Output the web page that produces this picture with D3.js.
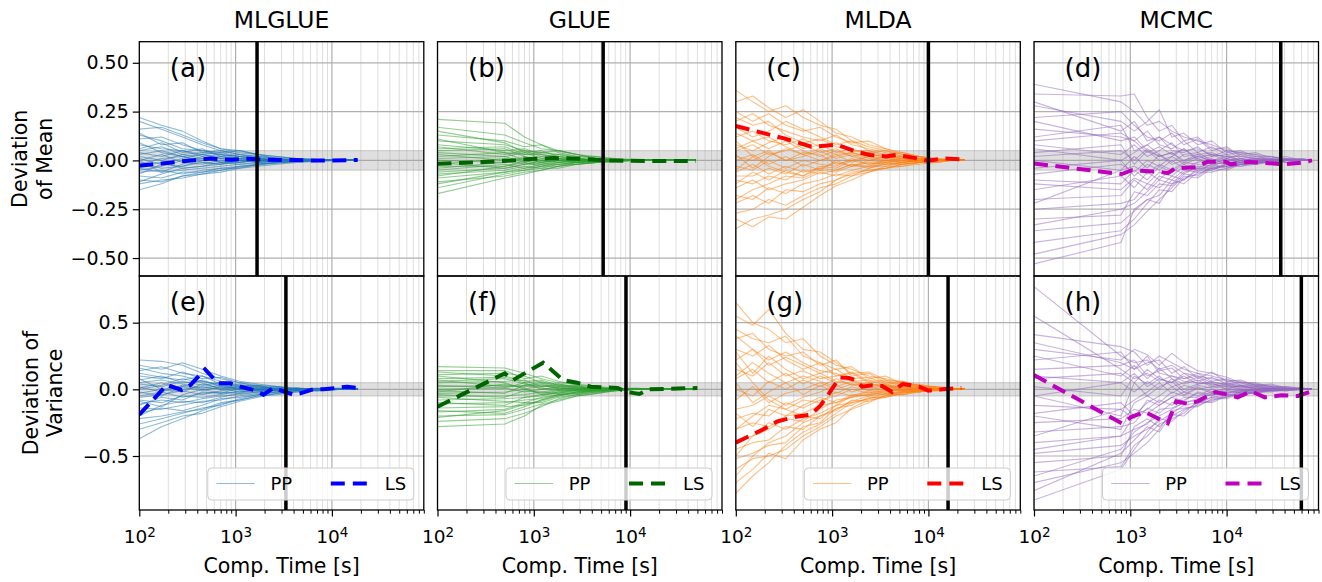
<!DOCTYPE html>
<html><head><meta charset="utf-8">
<script src="https://cdn.jsdelivr.net/npm/d3@7"></script>
<style>body{margin:0;background:#fff}</style>
</head><body>
<script>
// ---------------- DATA ----------------
const methods = ["MLGLUE", "GLUE", "MLDA", "MCMC"];
const letters = [["(a)", "(b)", "(c)", "(d)"], ["(e)", "(f)", "(g)", "(h)"]];
const rowLabels = [["Deviation", "of Mean"], ["Deviation of", "Variance"]];
const legendLabels = ["PP", "LS"];
const xLabel = "Comp. Time [s]";
const xDomain = [100, 90000];
const xMajor = [100, 1000, 10000];
const yTicksMean = [-0.5, -0.25, 0, 0.25, 0.5];
const yTicksVar = [-0.5, 0, 0.5];
const bandHalf = 0.05;

// computational-time grids of the per-run (PP) curves
const timesMLGLUE = [100, 170, 280, 450, 700, 1100, 1700, 2700, 4300, 7000, 11500, 18500];
const timesGLUE = [100, 500, 800, 1200, 1800, 2800, 4500, 7000, 11000, 18000, 30000, 48000];
const timesMLDA = [100, 150, 220, 330, 500, 750, 1100, 1600, 2400, 3600, 5400, 8000, 12000, 17000, 24000];
const timesMCMC = [100, 800, 1100, 1500, 2000, 2700, 3600, 5000, 7000, 10000, 14000, 20000, 29000, 42000, 60000, 77000];

// PP curves: deviation of mean
const meanMLGLUE = [
 [0.22,0.18,0.15,0.10,0.06,0.05,0.03,0.02,0.01,0.005,0.002,0],
 [0.20,0.16,0.12,0.08,0.05,0.03,0.02,0.015,0.01,0.005,0.002,0],
 [0.16,0.17,0.13,0.09,0.06,0.04,0.03,0.02,0.01,0.005,0,0],
 [0.13,0.10,0.06,0.05,0.04,0.05,0.03,0.01,0.005,0.0,0.0,0],
 [0.11,0.12,0.08,0.05,0.03,0.02,0.01,0.0,0.005,0.003,0.001,0],
 [0.08,0.06,0.05,0.03,0.04,0.02,0.02,0.01,0.0,0.0,0.0,0],
 [0.06,0.09,0.04,0.06,0.02,0.03,0.01,0.005,0.0,0,0,0],
 [0.04,0.02,0.05,0.02,0.03,0.01,0.015,0.0,0.005,0,0,0],
 [0.03,0.05,0.02,0.0,0.02,0.0,-0.01,0.0,0.0,0,0,0],
 [0.01,-0.02,0.01,0.03,0.01,0.02,0.0,-0.005,0,0,0,0],
 [0.0,0.03,-0.01,-0.02,0.0,-0.01,0.005,0.0,0,0,0,0],
 [-0.01,-0.04,-0.03,-0.01,-0.02,0.0,-0.01,0.0,-0.005,0,0,0],
 [-0.03,-0.01,-0.04,-0.03,-0.01,-0.02,-0.01,-0.005,0,0,0,0],
 [-0.04,-0.06,-0.05,-0.04,-0.03,-0.02,-0.015,-0.01,-0.005,0,0,0],
 [-0.06,-0.05,-0.07,-0.05,-0.04,-0.03,-0.02,-0.01,-0.005,-0.002,0,0],
 [-0.08,-0.09,-0.06,-0.06,-0.05,-0.035,-0.02,-0.01,-0.005,0,0,0],
 [-0.10,-0.11,-0.08,-0.06,-0.04,-0.04,-0.02,-0.015,-0.005,-0.002,0,0],
 [-0.12,-0.10,-0.09,-0.07,-0.05,-0.03,-0.025,-0.01,-0.005,0,0,0],
 [-0.15,-0.12,-0.08,-0.07,-0.06,-0.04,-0.03,-0.02,-0.01,-0.005,0,0],
 [0.02,0.0,0.03,0.04,0.05,0.03,0.02,0.01,0.005,0,0,0],
 [0.05,0.07,0.03,0.01,0.02,0.01,0.0,0.005,0,0,0,0],
 [-0.02,0.01,0.02,-0.01,-0.02,0.005,0.01,0.0,0,0,0,0],
 [0.09,0.04,0.02,0.03,0.01,0.0,0.01,0.0,0,0,0,0],
 [-0.05,-0.03,0.0,0.01,-0.01,-0.01,0.0,0.0,0,0,0,0],
 [0.14,0.08,0.09,0.04,0.03,0.02,0.0,0.005,0,0,0,0],
 [-0.07,-0.02,-0.03,0.0,0.01,0.0,-0.005,0,0,0,0,0],
 [0.0,-0.06,-0.02,0.02,-0.01,0.01,0.0,0,0,0,0,0],
 [-0.11,-0.07,-0.04,-0.03,-0.02,-0.01,0.0,0.0,0,0,0,0]
];
const meanGLUE = [
 [0.21,0.19,0.12,0.08,0.05,0.03,0.02,0.01,0.005,0,0,0],
 [0.17,0.13,0.09,0.06,0.05,0.03,0.01,0.01,0,0,0,0],
 [0.13,0.10,0.07,0.08,0.04,0.02,0.02,0.0,0,0,0,0],
 [0.10,0.08,0.05,0.04,0.05,0.03,0.01,0.005,0,0,0,0],
 [0.08,0.05,0.06,0.03,0.02,0.01,0.0,0.005,0,0,0,0],
 [0.06,0.07,0.03,0.04,0.03,0.02,0.01,0,0,0,0,0],
 [0.04,0.02,0.04,0.01,0.02,0.0,0.005,0,0,0,0,0],
 [0.02,0.04,0.0,0.02,0.0,0.01,0.0,0,0,0,0,0],
 [0.0,-0.01,0.02,0.0,0.01,-0.01,0.0,0,0,0,0,0],
 [-0.02,0.01,-0.02,-0.01,0.0,0.0,-0.005,0,0,0,0,0],
 [-0.03,-0.03,-0.01,-0.03,-0.01,-0.01,0.0,0,0,0,0,0],
 [-0.05,-0.02,-0.04,-0.02,-0.02,-0.01,-0.005,0,0,0,0,0],
 [-0.07,-0.05,-0.03,-0.04,-0.02,-0.02,-0.01,-0.005,0,0,0,0],
 [-0.09,-0.06,-0.05,-0.03,-0.03,-0.01,-0.01,0,0,0,0,0],
 [-0.11,-0.08,-0.06,-0.05,-0.03,-0.02,-0.01,-0.005,0,0,0,0],
 [-0.14,-0.07,-0.05,-0.04,-0.04,-0.02,-0.01,0,0,0,0,0],
 [-0.17,-0.09,-0.07,-0.05,-0.03,-0.02,-0.01,-0.005,0,0,0,0],
 [0.03,0.0,0.01,-0.01,0.01,0.0,0,0,0,0,0,0],
 [-0.01,-0.04,-0.02,0.0,-0.01,0.0,0.005,0,0,0,0,0],
 [0.07,0.03,0.05,0.02,0.03,0.01,0.0,0,0,0,0,0],
 [0.01,0.02,-0.01,0.01,0.0,0.005,0,0,0,0,0,0],
 [-0.04,-0.01,0.01,-0.01,0.0,-0.005,0,0,0,0,0,0],
 [0.05,0.06,0.02,0.0,0.01,0.0,0,0,0,0,0,0],
 [-0.06,-0.04,-0.02,-0.02,-0.01,0.0,0,0,0,0,0,0],
 [0.11,0.04,0.03,0.03,0.01,0.01,0.0,0,0,0,0,0],
 [-0.08,-0.03,0.0,-0.02,0.0,-0.01,0,0,0,0,0,0],
 [0.15,0.09,0.04,0.05,0.02,0.01,0.005,0,0,0,0,0],
 [-0.12,-0.06,-0.04,-0.03,-0.02,-0.01,-0.005,0,0,0,0,0]
];
const meanMLDA = [
 [0.36,0.30,0.25,0.28,0.22,0.18,0.16,0.10,0.07,0.05,0.03,0.02,0.01,0.0,0],
 [0.30,0.33,0.27,0.22,0.26,0.20,0.14,0.12,0.08,0.06,0.04,0.02,0.01,0.005,0],
 [0.25,0.20,0.24,0.18,0.15,0.17,0.12,0.09,0.10,0.06,0.03,0.02,0.0,0,0],
 [0.20,0.24,0.18,0.15,0.12,0.10,0.13,0.08,0.06,0.04,0.02,0.01,0.01,0,0],
 [0.17,0.12,0.15,0.20,0.16,0.12,0.08,0.10,0.05,0.03,0.04,0.02,0.0,0,0],
 [0.12,0.15,0.10,0.08,0.11,0.07,0.09,0.05,0.04,0.05,0.02,0.01,0.005,0,0],
 [0.08,0.05,0.09,0.12,0.06,0.08,0.04,0.06,0.03,0.02,0.01,0.02,0.0,0,0],
 [0.05,0.08,0.03,0.05,0.08,0.04,0.06,0.02,0.04,0.01,0.02,0.0,0.0,0,0],
 [0.02,0.0,0.04,0.0,0.02,0.05,0.01,0.03,0.0,0.02,0.0,0.01,0,0,0],
 [0.0,0.03,-0.02,0.02,-0.03,0.0,0.03,-0.01,0.02,0.0,0.01,-0.01,0,0,0],
 [-0.03,-0.05,0.0,-0.04,0.0,-0.02,-0.03,0.01,-0.02,-0.01,0.0,0.0,0,0,0],
 [-0.06,-0.02,-0.07,-0.03,-0.06,-0.04,-0.01,-0.03,-0.01,-0.02,-0.01,0.0,0,0,0],
 [-0.10,-0.12,-0.08,-0.10,-0.05,-0.07,-0.05,-0.02,-0.04,-0.01,-0.02,-0.01,0,0,0],
 [-0.14,-0.10,-0.15,-0.12,-0.10,-0.06,-0.08,-0.05,-0.03,-0.03,-0.01,0.0,-0.01,0,0],
 [-0.18,-0.20,-0.14,-0.17,-0.12,-0.10,-0.07,-0.08,-0.04,-0.02,-0.02,-0.01,0,0,0],
 [-0.22,-0.18,-0.22,-0.15,-0.16,-0.12,-0.10,-0.06,-0.05,-0.04,-0.02,-0.01,0,0,0],
 [-0.27,-0.25,-0.20,-0.23,-0.18,-0.14,-0.12,-0.08,-0.06,-0.03,-0.03,-0.01,-0.01,0,0],
 [-0.35,-0.30,-0.28,-0.25,-0.20,-0.16,-0.10,-0.07,-0.05,-0.04,-0.02,-0.01,0,0,0],
 [-0.30,-0.34,-0.29,-0.30,-0.24,-0.18,-0.13,-0.10,-0.06,-0.04,-0.03,-0.02,-0.01,0,0],
 [0.10,0.02,-0.03,-0.06,-0.08,-0.04,-0.05,-0.02,-0.03,0.0,-0.01,0.0,0,0,0],
 [0.03,-0.04,0.02,0.06,0.03,0.0,0.02,0.04,0.01,0.0,0.01,0.0,0,0,0],
 [-0.05,0.02,0.05,0.0,0.04,0.03,-0.02,0.0,0.02,0.01,0.0,0.005,0,0,0],
 [0.14,0.10,0.06,0.10,0.05,0.02,0.05,0.02,0.0,0.02,0.01,0.0,0,0,0],
 [-0.12,-0.06,-0.10,-0.05,-0.08,-0.03,-0.04,0.0,-0.02,0.0,-0.01,0.0,0,0,0],
 [0.06,0.10,0.12,0.07,0.03,0.06,0.03,0.04,0.02,0.03,0.01,0.01,0,0,0],
 [-0.20,-0.15,-0.12,-0.08,-0.09,-0.05,-0.06,-0.03,-0.03,-0.02,-0.01,0.0,0,0,0],
 [0.22,0.18,0.20,0.13,0.09,0.11,0.07,0.05,0.05,0.02,0.02,0.01,0,0,0],
 [-0.08,-0.08,-0.04,-0.07,-0.02,-0.05,0.0,-0.03,0.0,-0.01,0.0,-0.005,0,0,0]
];
const meanMCMC = [
 [0.39,0.30,0.25,0.18,0.20,0.15,0.12,0.10,0.08,0.05,0.04,0.03,0.02,0.01,0.01,0],
 [0.34,0.33,0.34,0.22,0.15,0.18,0.10,0.12,0.06,0.06,0.03,0.04,0.01,0.02,0,0],
 [0.28,0.20,0.15,0.20,0.26,0.12,0.14,0.08,0.10,0.04,0.05,0.02,0.02,0,0.01,0],
 [0.22,0.25,0.18,0.12,0.10,0.14,0.08,0.11,0.05,0.07,0.02,0.03,0.0,0.01,0,0],
 [0.16,0.12,0.10,0.15,0.08,0.06,0.10,0.04,0.07,0.03,0.04,0.01,0.02,0,0,0],
 [0.12,0.18,0.05,0.08,0.12,0.05,0.04,0.07,0.02,0.05,0.01,0.02,0.0,0.01,0,0],
 [0.08,0.03,0.08,0.02,0.05,0.09,0.02,0.03,0.04,0.01,0.03,0.0,0.01,0,0,0],
 [0.04,0.08,-0.02,0.05,0.0,0.02,0.06,0.0,0.02,0.03,0.0,0.01,0,0.005,0,0],
 [0.0,-0.05,0.02,-0.04,0.03,-0.02,0.0,0.03,-0.01,0.0,0.01,-0.01,0.0,0,0,0],
 [-0.04,0.0,-0.08,-0.02,-0.05,0.0,-0.04,-0.01,0.01,-0.02,0.0,0.0,-0.01,0,0,0],
 [-0.10,-0.12,-0.05,-0.10,-0.03,-0.06,-0.02,-0.05,-0.02,-0.01,-0.02,0.0,0.0,0,0,0],
 [-0.15,-0.08,-0.14,-0.06,-0.10,-0.04,-0.07,-0.03,-0.04,-0.03,-0.01,-0.01,0.0,-0.01,0,0],
 [-0.20,-0.18,-0.10,-0.15,-0.08,-0.10,-0.05,-0.06,-0.02,-0.04,-0.02,-0.01,-0.01,0,0,0],
 [-0.25,-0.22,-0.20,-0.12,-0.14,-0.08,-0.10,-0.04,-0.05,-0.02,-0.03,-0.02,0,-0.01,0,0],
 [-0.30,-0.28,-0.16,-0.18,-0.12,-0.13,-0.07,-0.08,-0.03,-0.03,-0.02,-0.01,-0.01,0,0,0],
 [-0.36,-0.32,-0.26,-0.20,-0.18,-0.10,-0.12,-0.06,-0.06,-0.04,-0.02,-0.02,0,0,0,0],
 [-0.42,-0.36,-0.30,-0.22,-0.15,-0.16,-0.09,-0.07,-0.04,-0.03,-0.03,-0.01,-0.01,0,0,0],
 [-0.53,-0.42,-0.25,-0.20,-0.22,-0.12,-0.10,-0.05,-0.05,-0.02,-0.01,-0.01,0,0,0,0],
 [-0.48,-0.38,-0.33,-0.26,-0.20,-0.14,-0.08,-0.09,-0.04,-0.05,-0.02,-0.02,-0.01,0,0,0],
 [0.20,0.10,0.12,0.05,0.02,0.04,0.0,0.02,0.0,0.01,-0.01,0.0,0,0,0,0],
 [0.02,0.05,0.0,0.06,0.02,0.04,-0.01,0.02,0.03,0.0,0.01,0.0,0.0,0,0,0],
 [-0.07,-0.02,-0.06,0.0,-0.03,0.02,-0.02,0.01,-0.02,0.01,-0.01,0.0,0,0,0,0],
 [0.10,0.14,0.10,0.04,0.07,0.03,0.06,0.01,0.03,0.02,0.0,0.01,0,0,0,0],
 [-0.12,-0.15,-0.09,-0.12,-0.06,-0.08,-0.03,-0.04,-0.01,-0.02,-0.01,0.0,0,0,0,0],
 [0.30,0.15,0.20,0.10,0.12,0.08,0.05,0.06,0.03,0.02,0.02,0.01,0.01,0,0,0],
 [-0.33,-0.25,-0.22,-0.16,-0.10,-0.12,-0.06,-0.04,-0.04,-0.02,-0.02,-0.01,0,0,0,0],
 [0.06,0.0,0.04,0.08,0.03,-0.01,0.03,0.04,0.0,0.02,0.0,0.0,0,0,0,0],
 [-0.22,-0.05,-0.03,-0.07,-0.02,-0.05,-0.01,-0.02,-0.03,0.0,-0.01,0.0,0,0,0,0]
];

// PP curves: deviation of variance
const varMLGLUE = [
 [0.22,0.21,0.18,0.12,0.08,0.05,0.03,0.02,0.01,0.0,0.01,0.0],
 [0.18,0.15,0.20,0.15,0.10,0.06,0.04,0.02,0.0,0.01,0.0,0],
 [0.14,0.17,0.12,0.10,0.06,0.03,0.02,0.0,0.01,-0.01,0,0],
 [0.10,0.08,0.13,0.08,0.09,0.05,0.02,0.01,0.0,0.0,0.0,0],
 [0.07,0.10,0.05,0.06,0.03,0.04,0.01,0.02,0.0,0.0,0,0],
 [0.04,0.02,0.06,0.03,0.05,0.02,0.0,0.01,-0.01,0,0,0],
 [0.01,0.05,0.0,0.02,0.0,0.01,0.02,0.0,0.0,0,0,0],
 [-0.02,-0.05,0.02,-0.01,0.02,0.0,-0.01,0.0,0.01,0,0,0],
 [-0.05,-0.02,-0.06,-0.03,-0.02,-0.03,0.0,-0.01,0.0,0,0,0],
 [-0.08,-0.10,-0.05,-0.06,-0.04,-0.01,-0.02,0.0,0.0,0,0,0],
 [-0.11,-0.08,-0.10,-0.07,-0.05,-0.04,-0.02,-0.01,0.0,-0.01,0,0],
 [-0.14,-0.15,-0.12,-0.09,-0.08,-0.05,-0.03,-0.02,-0.01,0,0,0],
 [-0.18,-0.14,-0.16,-0.12,-0.07,-0.06,-0.04,-0.02,-0.01,0,0,0],
 [-0.22,-0.20,-0.17,-0.15,-0.10,-0.08,-0.05,-0.03,-0.01,-0.01,0,0],
 [-0.26,-0.22,-0.18,-0.14,-0.12,-0.07,-0.04,-0.02,-0.02,0,0,0],
 [-0.30,-0.25,-0.20,-0.18,-0.13,-0.09,-0.06,-0.03,-0.01,-0.01,0,0],
 [-0.37,-0.28,-0.22,-0.16,-0.11,-0.08,-0.05,-0.04,-0.02,0,0,0],
 [0.0,0.03,0.08,0.05,0.0,0.02,0.03,0.0,0.0,0,0,0],
 [-0.03,0.0,-0.02,0.04,0.01,-0.02,0.0,-0.01,0,0,0,0],
 [0.12,0.09,0.07,0.10,0.04,0.0,0.01,0.0,0,0,0,0],
 [0.02,-0.02,0.03,0.0,0.01,0.03,0.0,0.01,0,0,0,0],
 [-0.06,-0.04,-0.01,-0.04,-0.01,0.0,-0.01,0.0,0,0,0,0],
 [0.16,0.12,0.10,0.06,0.04,0.02,0.03,0.0,0,0,0,0],
 [-0.12,-0.06,-0.08,-0.02,-0.03,-0.02,0.0,0.0,0,0,0,0],
 [0.05,0.07,0.04,0.01,0.03,0.0,0.01,0.0,0,0,0,0],
 [-0.20,-0.12,-0.09,-0.10,-0.06,-0.03,-0.02,-0.01,0,0,0,0],
 [-0.09,-0.13,-0.04,0.0,-0.03,0.01,0.0,0.0,0,0,0,0],
 [0.08,0.0,0.02,0.07,0.02,0.01,-0.01,0.0,0,0,0,0]
];
const varGLUE = [
 [0.17,0.16,0.12,0.08,0.05,0.04,0.02,0.01,0,0,0,0],
 [0.14,0.14,0.08,0.10,0.06,0.03,0.02,0.0,0.01,0,0,0],
 [0.11,0.12,0.10,0.05,0.04,0.02,0.01,0.01,0,0,0,0],
 [0.08,0.09,0.05,0.06,0.02,0.03,0.0,0.0,0,0,0,0],
 [0.05,0.06,0.07,0.02,0.03,0.01,0.01,0,0,0,0,0],
 [0.02,0.03,0.02,0.04,0.0,0.02,0.0,0.005,0,0,0,0],
 [0.0,0.01,-0.02,0.0,0.01,0.0,-0.01,0,0,0,0,0],
 [-0.03,-0.02,0.0,-0.03,-0.01,-0.01,0.0,0,0,0,0,0],
 [-0.05,-0.05,-0.04,-0.02,-0.03,0.0,-0.01,0,0,0,0,0],
 [-0.08,-0.07,-0.06,-0.05,-0.02,-0.02,0.0,-0.005,0,0,0,0],
 [-0.11,-0.10,-0.08,-0.07,-0.04,-0.03,-0.01,0,0,0,0,0],
 [-0.14,-0.13,-0.12,-0.08,-0.05,-0.02,-0.02,-0.01,0,0,0,0],
 [-0.17,-0.15,-0.10,-0.10,-0.06,-0.04,-0.02,0,0,0,0,0],
 [-0.20,-0.19,-0.15,-0.11,-0.08,-0.05,-0.03,-0.01,0,0,0,0],
 [-0.24,-0.22,-0.18,-0.13,-0.07,-0.04,-0.02,-0.01,0,0,0,0],
 [-0.28,-0.26,-0.20,-0.12,-0.09,-0.05,-0.03,-0.01,0,0,0,0],
 [0.06,0.08,0.04,0.02,0.04,0.01,0.0,0,0,0,0,0],
 [-0.01,-0.03,0.03,0.01,-0.01,0.01,0.005,0,0,0,0,0],
 [0.10,0.05,0.0,0.03,0.01,0.0,0.01,0,0,0,0,0],
 [-0.06,-0.09,-0.10,-0.06,-0.04,-0.02,-0.01,0,0,0,0,0],
 [0.03,0.01,0.05,0.0,0.02,0.0,0.005,0,0,0,0,0],
 [-0.04,-0.06,-0.01,-0.02,0.0,-0.01,0,0,0,0,0,0],
 [0.13,0.10,0.06,0.07,0.03,0.02,0.0,0,0,0,0,0],
 [-0.10,-0.12,-0.06,-0.04,-0.03,-0.01,-0.005,0,0,0,0,0],
 [0.07,0.02,0.03,0.05,0.01,0.01,0,0,0,0,0,0],
 [-0.16,-0.18,-0.13,-0.08,-0.04,-0.03,-0.01,0,0,0,0,0],
 [-0.02,0.04,0.01,-0.04,-0.02,0.0,0,0,0,0,0,0],
 [-0.21,-0.16,-0.11,-0.09,-0.05,-0.02,-0.01,0,0,0,0,0]
];
const varMLDA = [
 [0.65,0.50,0.45,0.35,0.38,0.25,0.18,0.15,0.10,0.08,0.05,0.03,0.02,0.01,0],
 [0.55,0.48,0.60,0.42,0.30,0.28,0.20,0.12,0.13,0.07,0.06,0.03,0.01,0.0,0],
 [0.45,0.38,0.35,0.40,0.25,0.20,0.15,0.17,0.08,0.10,0.04,0.02,0.02,0,0],
 [0.38,0.42,0.30,0.25,0.28,0.18,0.22,0.10,0.12,0.05,0.06,0.02,0.0,0,0],
 [0.30,0.25,0.33,0.22,0.15,0.20,0.10,0.13,0.06,0.07,0.03,0.04,0.01,0,0],
 [0.22,0.30,0.18,0.24,0.18,0.12,0.15,0.08,0.09,0.04,0.05,0.01,0.02,0,0],
 [0.15,0.10,0.20,0.10,0.14,0.08,0.10,0.12,0.05,0.06,0.02,0.03,0.0,0,0],
 [0.08,0.15,0.05,0.12,0.04,0.10,0.05,0.07,0.03,0.04,0.01,0.02,0,0,0],
 [0.0,-0.05,0.06,0.0,0.07,0.02,0.08,0.03,0.05,0.01,0.03,0.0,0.01,0,0],
 [-0.08,0.02,-0.10,-0.03,0.0,0.05,0.0,0.04,0.0,0.03,0.0,0.01,0,0,0],
 [-0.15,-0.12,-0.05,-0.12,-0.06,-0.02,0.03,-0.02,0.02,-0.01,0.02,0.0,0,0,0],
 [-0.22,-0.18,-0.20,-0.10,-0.14,-0.08,-0.05,0.0,-0.03,0.01,-0.01,0.0,0,0,0],
 [-0.30,-0.25,-0.28,-0.20,-0.18,-0.12,-0.10,-0.06,-0.02,-0.04,-0.01,-0.02,0,0,0],
 [-0.38,-0.35,-0.25,-0.30,-0.22,-0.18,-0.12,-0.10,-0.07,-0.03,-0.04,-0.01,-0.01,0,0],
 [-0.45,-0.40,-0.38,-0.28,-0.30,-0.20,-0.16,-0.08,-0.09,-0.05,-0.02,-0.02,0,0,0],
 [-0.52,-0.48,-0.42,-0.40,-0.28,-0.25,-0.14,-0.12,-0.06,-0.06,-0.03,-0.01,-0.01,0,0],
 [-0.60,-0.52,-0.50,-0.45,-0.35,-0.28,-0.20,-0.15,-0.10,-0.04,-0.04,-0.02,0,0,0],
 [-0.70,-0.60,-0.48,-0.52,-0.38,-0.30,-0.25,-0.14,-0.08,-0.06,-0.03,-0.01,-0.01,0,0],
 [-0.78,-0.65,-0.55,-0.42,-0.32,-0.26,-0.18,-0.10,-0.07,-0.05,-0.02,-0.02,0,0,0],
 [0.20,0.05,-0.08,-0.15,-0.20,-0.22,-0.12,-0.05,-0.04,0.0,-0.01,0.0,0,0,0],
 [0.10,0.20,0.12,0.05,0.10,0.06,0.02,0.06,0.02,0.03,0.01,0.0,0,0,0],
 [-0.30,-0.20,-0.12,-0.15,-0.08,-0.10,-0.02,-0.05,-0.01,-0.02,0.0,-0.01,0,0,0],
 [0.40,0.30,0.22,0.28,0.20,0.14,0.12,0.06,0.07,0.03,0.02,0.01,0,0,0],
 [-0.50,-0.35,-0.30,-0.22,-0.24,-0.15,-0.08,-0.06,-0.04,-0.02,-0.02,0.0,0,0,0],
 [0.05,-0.10,-0.02,0.05,-0.04,0.03,-0.03,0.02,-0.01,0.02,0.0,0.0,0,0,0],
 [-0.65,-0.50,-0.40,-0.35,-0.25,-0.20,-0.15,-0.09,-0.05,-0.03,-0.02,-0.01,0,0,0],
 [0.28,0.12,0.25,0.15,0.08,0.12,0.06,0.04,0.04,0.02,0.01,0.01,0,0,0],
 [-0.18,-0.28,-0.15,-0.20,-0.12,-0.06,-0.10,-0.04,-0.05,-0.01,-0.01,0.0,0,0,0]
];
const varMCMC = [
 [0.77,0.25,0.20,0.22,0.15,0.18,0.12,0.10,0.08,0.06,0.05,0.04,0.02,0.01,0.01,0],
 [0.41,0.32,0.28,0.18,0.25,0.20,0.15,0.12,0.10,0.07,0.06,0.03,0.03,0.01,0,0],
 [0.30,0.22,0.30,0.26,0.18,0.27,0.20,0.14,0.12,0.09,0.05,0.05,0.02,0.02,0.01,0],
 [0.22,0.28,0.15,0.20,0.22,0.12,0.17,0.08,0.13,0.06,0.07,0.03,0.04,0.01,0,0],
 [0.15,0.18,0.22,0.10,0.14,0.16,0.08,0.12,0.06,0.08,0.03,0.04,0.01,0.02,0,0],
 [0.08,0.12,0.05,0.15,0.08,0.05,0.12,0.06,0.09,0.04,0.05,0.02,0.02,0,0.01,0],
 [0.02,-0.05,0.10,0.04,0.10,0.02,0.05,0.09,0.03,0.05,0.02,0.03,0.0,0.01,0,0],
 [-0.05,0.05,-0.02,0.06,0.0,0.08,0.0,0.04,0.05,0.0,0.03,0.0,0.01,0,0,0],
 [-0.12,-0.15,-0.08,-0.02,0.05,-0.03,0.03,0.0,0.02,0.03,0.0,0.01,0.0,0,0,0],
 [-0.18,-0.10,-0.20,-0.10,-0.05,0.02,-0.04,0.02,-0.02,0.01,-0.01,0.0,0.0,0,0,0],
 [-0.25,-0.22,-0.15,-0.18,-0.12,-0.06,-0.02,-0.05,0.0,-0.03,0.0,-0.01,0.0,0,0,0],
 [-0.32,-0.28,-0.25,-0.14,-0.18,-0.10,-0.08,-0.03,-0.05,-0.01,-0.03,0.0,-0.01,0,0,0],
 [-0.40,-0.35,-0.30,-0.26,-0.15,-0.14,-0.10,-0.08,-0.03,-0.05,-0.02,-0.02,0,-0.01,0,0],
 [-0.48,-0.42,-0.35,-0.30,-0.24,-0.18,-0.12,-0.10,-0.06,-0.04,-0.04,-0.01,-0.01,0,0,0],
 [-0.55,-0.50,-0.28,-0.22,-0.28,-0.20,-0.15,-0.12,-0.08,-0.06,-0.03,-0.03,-0.01,-0.01,0,0],
 [-0.62,-0.58,-0.42,-0.35,-0.26,-0.22,-0.18,-0.09,-0.10,-0.05,-0.04,-0.02,-0.02,0,0,0],
 [-0.70,-0.55,-0.48,-0.40,-0.30,-0.16,-0.14,-0.13,-0.07,-0.07,-0.03,-0.02,-0.01,0,0,0],
 [-0.83,-0.60,-0.45,-0.32,-0.22,-0.24,-0.16,-0.10,-0.09,-0.04,-0.05,-0.02,-0.01,-0.01,0,0],
 [-0.76,-0.48,-0.38,-0.28,-0.32,-0.19,-0.20,-0.11,-0.06,-0.06,-0.02,-0.03,0,0,0,0],
 [0.55,0.15,0.08,0.12,0.06,0.10,0.06,0.05,0.04,0.02,0.02,0.01,0.01,0,0,0],
 [0.10,0.05,0.12,0.02,0.08,0.05,0.10,0.04,0.06,0.03,0.02,0.01,0,0,0,0],
 [-0.20,-0.30,-0.10,-0.05,-0.10,-0.02,-0.05,0.01,-0.03,0.0,-0.01,0.0,0,0,0,0],
 [0.35,0.20,0.15,0.25,0.12,0.10,0.08,0.10,0.05,0.04,0.03,0.02,0.01,0,0,0],
 [-0.45,-0.35,-0.20,-0.15,-0.08,-0.12,-0.06,-0.06,-0.02,-0.03,-0.01,-0.01,0,0,0,0],
 [-0.05,-0.20,0.05,-0.05,0.02,0.06,-0.02,0.03,0.01,0.02,0.0,0.0,0,0,0,0],
 [-0.65,-0.45,-0.32,-0.25,-0.20,-0.15,-0.10,-0.07,-0.04,-0.03,-0.02,-0.01,0,0,0,0],
 [0.25,0.10,0.18,0.08,0.16,0.08,0.04,0.07,0.02,0.04,0.01,0.02,0,0,0,0],
 [-0.35,-0.15,-0.22,-0.08,-0.12,-0.06,-0.09,-0.02,-0.04,-0.01,-0.02,0.0,0,0,0,0]
];

// LS curves (time, value)
const lsMeanMLGLUE_t = [100,180,300,550,900,1300,2000,3500,6000,10000,18500];
const lsMeanMLGLUE_v = [-0.027,-0.015,-0.003,0.01,0.003,0.008,0.004,0.002,0.0,0.0,0.002];
const lsMeanGLUE_t = [100,300,600,1000,1600,2500,4000,6000,10000,20000,48000];
const lsMeanGLUE_v = [-0.017,-0.008,0.0,0.008,0.012,0.01,0.005,0.0,-0.002,-0.003,-0.003];
const lsMeanMLDA_t = [100,310,610,1120,1780,2470,3640,4600,7100,9800,14500,23000];
const lsMeanMLDA_v = [0.176,0.114,0.07,0.08,0.045,0.028,0.02,0.028,0.013,-0.002,0.01,0.005];
const lsMeanMCMC_t = [100,815,1040,2000,2450,2950,4800,6300,9800,11000,17000,28000,40000,63000,77000];
const lsMeanMCMC_v = [-0.016,-0.07,-0.05,-0.058,-0.065,-0.04,-0.035,-0.007,-0.007,-0.02,-0.007,-0.015,-0.02,-0.01,0.0];
const lsVarMLGLUE_t = [100,193,275,337,482,660,880,1120,1540,1950,2460,3150,3990,4700,6400,8200,14400,18200];
const lsVarMLGLUE_v = [-0.19,0.033,-0.005,0.03,0.15,0.045,0.045,0.02,-0.005,-0.04,0.01,-0.015,-0.04,-0.03,0.0,0.0,0.02,0.01];
const lsVarGLUE_t = [100,500,610,1250,2000,2800,3900,5400,7400,9300,12500,15500,50000];
const lsVarGLUE_v = [-0.13,0.12,0.07,0.2,0.07,0.05,0.02,0.015,0.01,-0.02,-0.035,0.0,0.01];
const lsVarMLDA_t = [100,193,270,425,600,760,930,1200,1500,1750,2050,2600,3300,4200,5400,6600,8000,10000,14000,22000];
const lsVarMLDA_v = [-0.40,-0.30,-0.24,-0.205,-0.19,-0.12,-0.03,0.09,0.085,0.07,0.02,0.03,0.025,-0.02,0.04,0.03,0.02,-0.01,0.0,0.01];
const lsVarMCMC_t = [100,815,1040,1420,2450,3000,4000,5000,7600,10400,13000,18000,25000,37000,55000,76000];
const lsVarMCMC_v = [0.107,-0.255,-0.205,-0.17,-0.255,-0.09,-0.11,-0.09,-0.02,-0.04,-0.06,-0.015,-0.06,-0.045,-0.05,-0.015];

// vertical markers (comp. time)
const vlineMean = [1670, 5250, 10000, 36500];
const vlineVar = [3330, 9060, 16000, 59700];

const ppColors = ["#1f77b4", "#2ca02c", "#ff7f0e", "#9467bd"];
const lsColors = ["#0000ff", "#006400", "#ff0000", "#bf00bf"];

// ---------------- assemble ----------------
const times = [timesMLGLUE, timesGLUE, timesMLDA, timesMCMC];
const ppData = [[meanMLGLUE, meanGLUE, meanMLDA, meanMCMC], [varMLGLUE, varGLUE, varMLDA, varMCMC]];
const lsT = [[lsMeanMLGLUE_t, lsMeanGLUE_t, lsMeanMLDA_t, lsMeanMCMC_t], [lsVarMLGLUE_t, lsVarGLUE_t, lsVarMLDA_t, lsVarMCMC_t]];
const lsV = [[lsMeanMLGLUE_v, lsMeanGLUE_v, lsMeanMLDA_v, lsMeanMCMC_v], [lsVarMLGLUE_v, lsVarGLUE_v, lsVarMLDA_v, lsVarMCMC_v]];
const vlines = [vlineMean, vlineVar];

// ---------------- layout ----------------
const W = 1322, H = 582;
const FONT = "DejaVu Sans, Verdana, sans-serif";
const colLeft = [139.3, 437.5, 735.8, 1034], pw = 284.5;
const rowTop = [41.7, 276], rowH = [234.3, 234];
const yDom = [[-0.592, 0.608], [-0.905, 0.85]];

const svg = d3.select("body").append("svg").attr("width", W).attr("height", H)
  .attr("font-family", FONT);
svg.append("rect").attr("width", W).attr("height", H).attr("fill", "#fff");

const x = d3.scaleLog().domain(xDomain).range([0, pw]);
const xMinor = [];
for (let e = 2; e <= 4; e++) for (let m = 2; m <= 9; m++) { const v = m * Math.pow(10, e); if (v <= xDomain[1]) xMinor.push(v); }

for (let r = 0; r < 2; r++) {
  for (let c = 0; c < 4; c++) {
    const h = rowH[r];
    const g = svg.append("g").attr("transform", `translate(${colLeft[c]},${rowTop[r]})`);
    const y = d3.scaleLinear().domain(yDom[r]).range([h, 0]);
    const cid = `clip${r}${c}`;
    g.append("clipPath").attr("id", cid).append("rect").attr("width", pw).attr("height", h);
    const plot = g.append("g").attr("clip-path", `url(#${cid})`);

    // grids
    plot.selectAll(".gmin").data(xMinor).join("line").attr("class", "gmin")
      .attr("x1", d => x(d)).attr("x2", d => x(d)).attr("y1", 0).attr("y2", h)
      .attr("stroke", "#dedede").attr("stroke-width", 1);
    plot.selectAll(".gmaj").data(xMajor).join("line").attr("class", "gmaj")
      .attr("x1", d => x(d)).attr("x2", d => x(d)).attr("y1", 0).attr("y2", h)
      .attr("stroke", "#b0b0b0").attr("stroke-width", 1.2);
    const yt = r ? yTicksVar : yTicksMean;
    plot.selectAll(".gy").data(yt).join("line").attr("class", "gy")
      .attr("x1", 0).attr("x2", pw).attr("y1", d => y(d)).attr("y2", d => y(d))
      .attr("stroke", "#b0b0b0").attr("stroke-width", 1.2);

    // tolerance band
    plot.append("rect").attr("x", 0).attr("width", pw)
      .attr("y", y(bandHalf)).attr("height", y(-bandHalf) - y(bandHalf))
      .attr("fill", "#9a9a9a").attr("fill-opacity", 0.32)
      .attr("stroke", "#9a9a9a").attr("stroke-opacity", 0.45).attr("stroke-width", 1);

    // PP curves
    const tt = times[c];
    const ppLine = d3.line().defined((d, i) => i < tt.length).x((d, i) => x(tt[i])).y(d => y(d));
    plot.selectAll(".pp").data(ppData[r][c]).join("path").attr("class", "pp")
      .attr("d", d => ppLine(d)).attr("fill", "none")
      .attr("stroke", ppColors[c]).attr("stroke-opacity", 0.5).attr("stroke-width", 1.1)
      .attr("stroke-linejoin", "round");

    // LS curve
    const lt = lsT[r][c];
    const lsLine = d3.line().x((d, i) => x(lt[i])).y(d => y(d));
    plot.append("path").attr("d", lsLine(lsV[r][c])).attr("fill", "none")
      .attr("stroke", lsColors[c]).attr("stroke-width", 4).attr("stroke-dasharray", "14,7.5");

    // vertical marker
    const vx = x(vlines[r][c]);
    plot.append("line").attr("x1", vx).attr("x2", vx).attr("y1", 0).attr("y2", h)
      .attr("stroke", "#000").attr("stroke-width", 3.5);

    // frame
    g.append("rect").attr("width", pw).attr("height", h).attr("fill", "none")
      .attr("stroke", "#000").attr("stroke-width", 1.3);

    // y axis
    if (c === 0) {
      const ay = g.append("g").call(d3.axisLeft(y).tickValues(yt).tickSize(6.5).tickPadding(4)
        .tickFormat(d3.format(r ? ".1f" : ".2f")));
      ay.attr("font-family", FONT).attr("font-size", 19);
      ay.select(".domain").remove();
      ay.selectAll("line").attr("stroke", "#000").attr("stroke-width", 1.2);
      ay.selectAll("text").attr("fill", "#000");
    }

    // x axis
    if (r === 1) {
      const axm = g.append("g").attr("transform", `translate(0,${h})`)
        .call(d3.axisBottom(x).tickValues(xMinor).tickSize(3.7).tickFormat(""));
      axm.select(".domain").remove();
      axm.selectAll("line").attr("stroke", "#000").attr("stroke-width", 1);
      const ax = g.append("g").attr("transform", `translate(0,${h})`)
        .call(d3.axisBottom(x).tickValues(xMajor).tickSize(6.5).tickFormat(""));
      ax.select(".domain").remove();
      ax.selectAll("line").attr("stroke", "#000").attr("stroke-width", 1.2);
      ax.attr("font-family", FONT).attr("font-size", 18.5);
      ax.selectAll(".tick text").each(function (d) {
        const t = d3.select(this).attr("y", 33).attr("dy", null).attr("fill", "#000").text(null);
        t.append("tspan").text("10");
        t.append("tspan").attr("dy", -6.5).attr("font-size", 13.5).text(Math.round(Math.log10(d)));
      });
      g.append("text").attr("x", pw / 2).attr("y", h + 63.3).attr("text-anchor", "middle")
        .attr("font-size", 20.5).attr("fill", "#000").text(xLabel);

      // legend
      const lg = g.append("g").attr("transform", `translate(${pw - 10 - 206},${h - 10 - 32})`);
      lg.append("rect").attr("width", 206).attr("height", 32).attr("rx", 4)
        .attr("fill", "#fff").attr("fill-opacity", 0.8).attr("stroke", "#cccccc").attr("stroke-width", 1);
      lg.append("line").attr("x1", 8.7).attr("x2", 47).attr("y1", 15.5).attr("y2", 15.5)
        .attr("stroke", ppColors[c]).attr("stroke-opacity", 0.5).attr("stroke-width", 1.1);
      lg.append("text").attr("x", 62.7).attr("y", 22).attr("font-size", 18).attr("fill", "#000").text(legendLabels[0]);
      lg.append("line").attr("x1", 123).attr("x2", 160).attr("y1", 15.5).attr("y2", 15.5)
        .attr("stroke", lsColors[c]).attr("stroke-width", 4).attr("stroke-dasharray", "14,8");
      lg.append("text").attr("x", 177).attr("y", 22).attr("font-size", 18).attr("fill", "#000").text(legendLabels[1]);
    }

    // title
    if (r === 0) {
      g.append("text").attr("x", pw / 2).attr("y", -13.4).attr("text-anchor", "middle")
        .attr("font-size", 23.5).attr("fill", "#000").text(methods[c]);
    }
    // panel letter
    g.append("text").attr("x", 30.5).attr("y", 35).attr("font-size", 26).attr("fill", "#000").text(letters[r][c]);
  }
}

// row labels
const rowLabelX = [[27, 52], [37.5, 61.5]];
for (let r = 0; r < 2; r++) {
  const cy = rowTop[r] + rowH[r] / 2;
  rowLabels[r].forEach((s, i) => {
    svg.append("text").attr("transform", `translate(${rowLabelX[r][i]},${cy}) rotate(-90)`)
      .attr("text-anchor", "middle").attr("font-size", 20.5).attr("fill", "#000").text(s);
  });
}
</script>
</body></html>
